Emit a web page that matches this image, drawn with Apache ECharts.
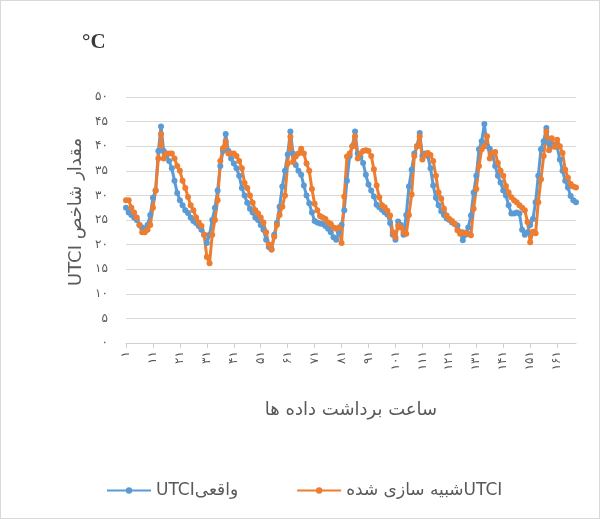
<!DOCTYPE html>
<html>
<head>
<meta charset="utf-8">
<script src="https://cdn.jsdelivr.net/npm/echarts@6/dist/echarts.min.js"></script>
<style>
html,body{margin:0;padding:0;background:#fff;}
#frame{position:absolute;left:0;top:0;width:598px;height:517px;border:1px solid #d9d9d9;}
#c{width:598px;height:517px;}
</style>
</head>
<body>
<div id="frame"><div id="c"></div></div>
<script>
// Hourly UTCI values (168 hours = 7 days)
const utciActual = [
  27.5, 26.5, 26, 25.5, 25, 24, 23.5, 23, 24, 26, 29.5, 31, 39, 44, 39, 38, 37, 35.5, 33, 30.5, 29, 28, 27, 26.4,
  25.5, 24.8, 24.4, 23.8, 23, 22, 20.3, 22, 25, 27.5, 31, 36, 39, 42.5, 39, 37.5, 36.5, 35.5, 34, 31.5, 30, 28.5, 27.3, 26.5,
  25.5, 25, 24, 23, 21, 19.5, 19, 22, 24.4, 27.7, 31.8, 35, 38.3, 43, 38.5, 36.2, 35, 34.2, 32, 30, 28.4, 26.5, 24.8, 24.5,
  24.3, 24.2, 23.8, 23.2, 22.5, 21.5, 21, 22.5, 24, 27, 33, 38, 40, 43, 38.5, 37.8, 36.6, 34.2, 32.2, 31, 29.8, 28.1, 27.6, 27.1,
  26.6, 26.1, 24.4, 22, 21, 24.7, 24, 22, 26, 31.8, 35.2, 38.5, 40, 42.7, 38, 38.5, 38, 35.5, 32, 29.5, 28, 26.8, 26, 25.3,
  25, 24.5, 24.2, 23.9, 22.5, 20.9, 22, 23.5, 25.9, 30.6, 34, 39.4, 41, 44.5, 40, 39.5, 38.5, 36, 34, 32.6, 31, 30, 28, 26.3,
  26.3, 26.5, 26.3, 23, 22, 22.5, 24, 25.2, 28.6, 34, 39.4, 41, 43.7, 40.6, 40, 40, 39.9, 37.3, 35, 33, 31.6, 29.9, 29, 28.6
];
const utciSimulated = [
  29, 29, 27.5, 26.5, 25.5, 24, 22.5, 22.5, 23, 24, 27.5, 31, 37.5, 42.5, 37.5, 38.5, 38.5, 38.5, 37.5, 36, 35, 33, 31.5, 29.7,
  28, 27, 25.5, 24.5, 23.8, 22, 17.5, 16.2, 22, 25, 29, 37, 39.6, 41, 38.5, 38.5, 38.5, 38, 37, 35.5, 32.5, 31.5, 30, 28.5,
  27, 26.3, 25.5, 24.5, 22.5, 20, 19, 21.6, 24, 26, 27.7, 30, 36.5, 41.9, 36.8, 37.9, 38.5, 39.5, 38.5, 36.5, 35, 31.3, 28.3, 27,
  25.8, 25.5, 25.2, 24.5, 24.2, 23.5, 23.2, 23.5, 20.3, 29.8, 37.9, 38.5, 40, 42, 37.5, 38.5, 39, 39.2, 39, 38, 35.3, 32, 29.6, 28,
  27.6, 26.9, 25.9, 22.5, 21.5, 23.9, 23.5, 22.5, 22.2, 26, 30.2, 38, 40, 42, 37.3, 38.2, 38.6, 38.2, 37, 34, 30.6, 29.3, 27.3, 25.9,
  25.2, 24.8, 24.2, 22.9, 22.2, 22.5, 22.3, 22.2, 21.9, 27.3, 31.3, 36, 39.4, 40, 42, 37.5, 38.6, 38.8, 36.6, 35, 34, 31.9, 30.6, 29.6,
  29, 28.6, 28, 27.5, 27, 24.6, 20.5, 22.6, 22.3, 28.6, 33.3, 38, 43, 39.2, 41.6, 39.9, 41.3, 40, 38.6, 35.2, 33.6, 32.3, 31.8, 31.6
];
const seriesNames = ['UTCIواقعی', 'شبیه سازی شدهUTCI'];
const yAxisTitle = 'UTCI مقدار شاخص';
const xAxisTitle = 'ساعت برداشت داده ها';
const unitLabel = '°C';
const yMin = 0, yMax = 50, yStep = 5;

const faDigits = '۰۱۲۳۴۵۶۷۸۹';
function toFa(n) { return String(n).replace(/[0-9]/g, d => faDigits[+d]); }
const hours = utciActual.map((_, i) => toFa(i + 1));

const chart = echarts.init(document.getElementById('c'));
const txt = '#595959';
const fontFam = '"DejaVu Sans", "Noto Sans", sans-serif';
chart.setOption({
  animation: false,
  backgroundColor: '#fff',
  grid: { left: 125, right: 23, top: 96, bottom: 175, containLabel: false },
  graphic: [
    {
      type: 'text', left: 81, top: 31,
      style: { text: unitLabel, fontFamily: '"Liberation Serif", serif', fontSize: 21, fontWeight: 'bold', fill: '#3a3a3a' }
    },
    {
      type: 'text', x: 75, y: 211, rotation: Math.PI / 2,
      style: { text: yAxisTitle, fontFamily: fontFam, fontSize: 18, fill: txt, align: 'center', verticalAlign: 'middle' }
    }
  ],
  legend: {
    top: 476, left: 100,
    itemWidth: 44, itemHeight: 8, itemGap: 58,
    textStyle: { color: txt, fontSize: 17, fontFamily: fontFam },
    data: seriesNames
  },
  xAxis: {
    type: 'category',
    data: hours,
    boundaryGap: false,
    name: xAxisTitle,
    nameLocation: 'middle',
    nameGap: 58,
    nameTextStyle: { color: txt, fontSize: 18, fontFamily: fontFam },
    axisLine: { lineStyle: { color: '#d0d0d0', width: 1 } },
    axisTick: { show: true, interval: 9, length: 5, lineStyle: { color: '#d0d0d0' } },
    axisLabel: { interval: 9, rotate: 90, color: txt, fontSize: 12, margin: 8, fontFamily: fontFam },
    splitLine: { show: false }
  },
  yAxis: {
    type: 'value',
    min: yMin, max: yMax, interval: yStep,
    axisLine: { show: false },
    axisTick: { show: false },
    axisLabel: { color: txt, fontSize: 12, margin: 18, fontFamily: fontFam, formatter: v => toFa(v) },
    splitLine: { lineStyle: { color: '#d9d9d9', width: 1 } }
  },
  series: [
    {
      name: seriesNames[0], type: 'line', data: utciActual,
      symbol: 'circle', symbolSize: 6, showSymbol: true, showAllSymbol: true,
      lineStyle: { color: '#5B9BD5', width: 3 },
      itemStyle: { color: '#5B9BD5' }
    },
    {
      name: seriesNames[1], type: 'line', data: utciSimulated,
      symbol: 'circle', symbolSize: 6, showSymbol: true, showAllSymbol: true,
      lineStyle: { color: '#ED7D31', width: 3 },
      itemStyle: { color: '#ED7D31' }
    }
  ]
});
</script>
</body>
</html>
